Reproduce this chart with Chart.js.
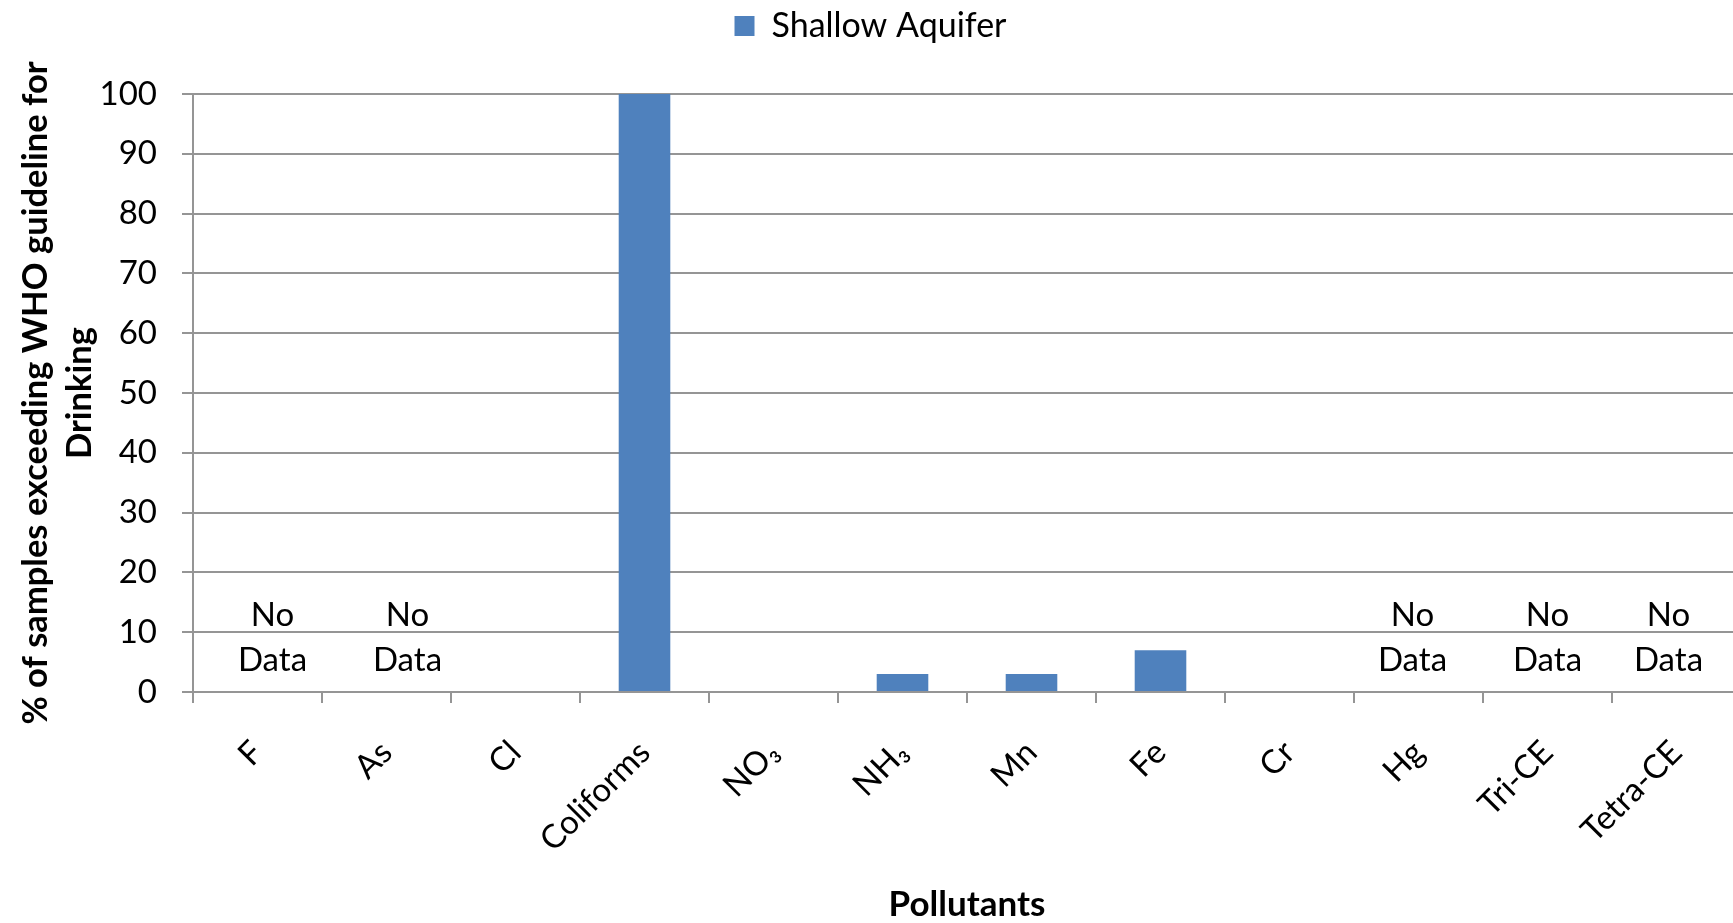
<!DOCTYPE html>
<html><head><meta charset="utf-8">
<script src="https://cdn.jsdelivr.net/npm/chart.js@4/dist/chart.umd.min.js"></script>
<style>html,body{margin:0;padding:0;background:#fff;overflow:hidden;width:1733px;height:923px}canvas{display:block}</style>
</head><body><canvas id="c" width="1746" height="923"></canvas>
<script>
// ---- data ----
const categories = ['F', 'As', 'Cl', 'Coliforms', 'NO\u2083', 'NH\u2083', 'Mn', 'Fe', 'Cr', 'Hg', 'Tri-CE', 'Tetra-CE'];
const shallowAquifer = [null, null, 0, 100, 0, 3, 3, 7, 0, null, null, null];
const noDataFlags = [true, true, false, false, false, false, false, false, false, true, true, true];
const yTickValues = [0, 10, 20, 30, 40, 50, 60, 70, 80, 90, 100];
const seriesName = 'Shallow Aquifer';
const xTitle = 'Pollutants';
const yTitle = ['% of samples exceeding WHO guideline for', 'Drinking'];
const noDataLines = ['No', 'Data'];

// ---- annotation styling (not data) ----
const noDataNudgePx = [15, 21, 0, 0, 0, 0, 0, 0, 0, -6, 0, -8];
const noDataAnchorValue = 9;
const FONT = 'Lato, "Liberation Sans", sans-serif';
const GRID = '#959595';

const noDataPlugin = {
  id: 'noData',
  afterDatasetsDraw(chart) {
    const {ctx, scales: {x, y}} = chart;
    ctx.save();
    ctx.font = '33px ' + FONT;
    ctx.fillStyle = '#000';
    ctx.textAlign = 'center';
    ctx.textBaseline = 'middle';
    const cy = y.getPixelForValue(noDataAnchorValue);
    noDataFlags.forEach((f, i) => {
      if (!f) return;
      const cx = x.getPixelForValue(i) + noDataNudgePx[i];
      ctx.fillText(noDataLines[0], cx, cy - 22.5);
      ctx.fillText(noDataLines[1], cx, cy + 22.5);
    });
    ctx.restore();
  }
};

const legendSize = {
  id: 'legendSize',
  beforeInit(chart) {
    const fit = chart.legend.fit;
    chart.legend.fit = function () { fit.call(this); this.height = 94; };
  }
};

new Chart(document.getElementById('c'), {
  type: 'bar',
  data: {
    labels: categories,
    datasets: [{
      label: seriesName,
      data: shallowAquifer,
      backgroundColor: '#4f81bd',
      borderWidth: 0,
      categoryPercentage: 1,
      barPercentage: 0.4
    }]
  },
  options: {
    responsive: false,
    animation: false,
    devicePixelRatio: 1,
    layout: {padding: {left: 0, top: 0, bottom: 0, right: 5}},
    plugins: {
      legend: {
        position: 'top',
        labels: {
          boxWidth: 20, boxHeight: 20, padding: 9, color: '#000',
          font: {family: FONT, size: 34}
        }
      },
      tooltip: {enabled: false}
    },
    scales: {
      x: {
        grid: {display: true, drawOnChartArea: false, drawTicks: true, tickLength: 11, color: GRID, lineWidth: 2, offset: true},
        border: {display: true, color: GRID, width: 2},
        ticks: {
          autoSkip: false, minRotation: 45, maxRotation: 45, padding: 30, color: '#000',
          font: {family: FONT, size: 33}
        },
        title: {display: true, text: xTitle, color: '#000', padding: {top: 0, bottom: 0},
          font: {family: FONT, size: 35, weight: 'bold', lineHeight: 1.05}},
        afterFit(s) { s.height = 231; }
      },
      y: {
        min: 0, max: 100,
        afterBuildTicks(s) { s.ticks = yTickValues.map(v => ({value: v})); },
        grid: {color: GRID, lineWidth: 2, tickLength: 11, drawTicks: true},
        border: {display: true, color: GRID, width: 2},
        ticks: {padding: 25, color: '#000', font: {family: FONT, size: 33}},
        title: {display: true, text: yTitle, color: '#000', padding: {top: 14, bottom: 0},
          font: {family: FONT, size: 34.5, weight: 'bold', lineHeight: 1.275}},
        afterFit(s) { s.width = 193; }
      }
    }
  },
  plugins: [noDataPlugin, legendSize]
});
</script>
</body></html>
